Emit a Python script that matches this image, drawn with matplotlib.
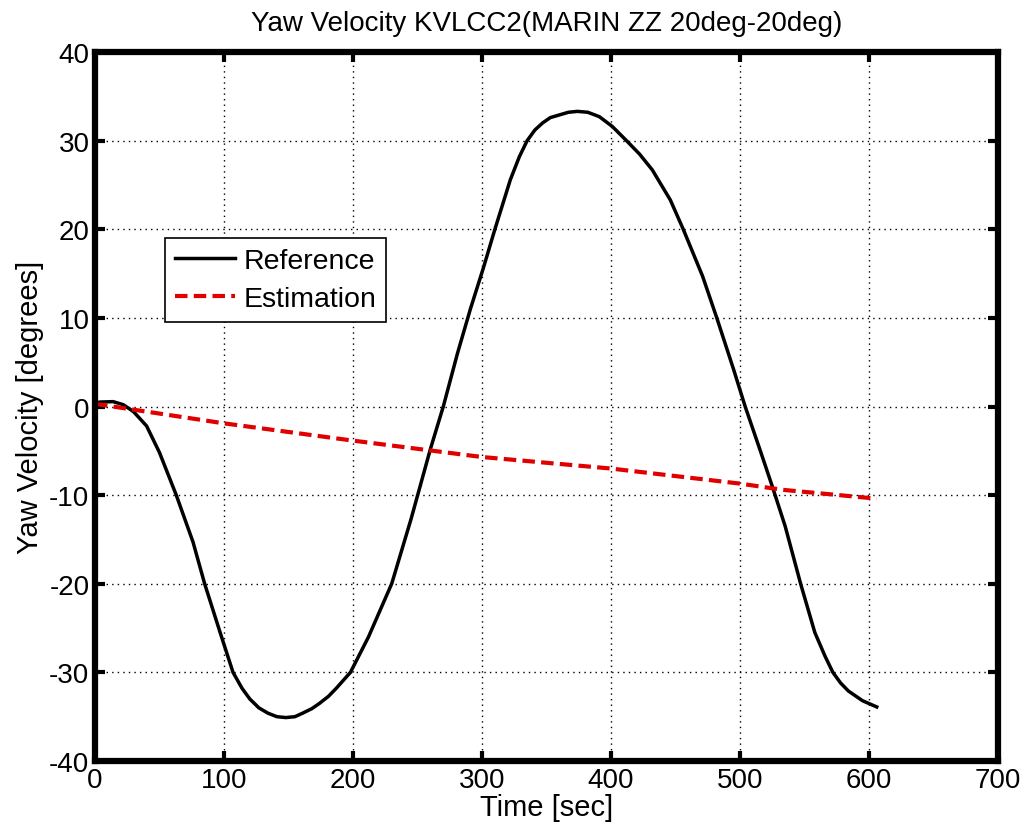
import matplotlib
matplotlib.use("Agg")
import matplotlib.pyplot as plt
import numpy as np

# reference yaw velocity
t_ref = [0, 4, 14, 22, 30, 40, 50, 63, 76, 85, 97, 107, 114, 120, 127, 134, 141, 148, 155,
         161, 168, 174, 181, 187, 198, 212, 230, 245, 260, 270, 281, 291, 301, 310, 322, 329,
         335, 341, 347, 353, 360, 367, 374, 382, 391, 401, 412, 422, 432, 446, 456, 471, 482,
         495, 504, 516, 525, 535, 547, 558, 566, 572, 578, 584, 595, 606]
r_ref = [0.4, 0.5, 0.55, 0.2, -0.6, -2.2, -5.2, -10.0, -15.3, -20.0, -25.5, -30.0, -31.8,
         -33.0, -34.0, -34.6, -35.0, -35.1, -35.0, -34.6, -34.1, -33.5, -32.7, -31.8, -30.0,
         -26.0, -20.0, -12.7, -4.8, 0.0, 6.0, 11.0, 15.6, 20.0, 25.6, 28.2, 30.0, 31.2, 32.0,
         32.6, 32.9, 33.2, 33.3, 33.2, 32.7, 31.6, 30.0, 28.5, 26.7, 23.3, 20.0, 14.7, 10.0,
         4.2, 0.0, -5.1, -9.0, -13.5, -20.0, -25.5, -28.2, -30.0, -31.2, -32.1, -33.2, -33.9]

# estimation
t_est = [0, 100, 200, 300, 400, 500, 533, 606]
r_est = [0.3, -1.9, -3.85, -5.7, -7.0, -8.7, -9.4, -10.4]

plt.rcParams['font.family'] = ['Liberation Sans', 'DejaVu Sans']
plt.rcParams['axes.unicode_minus'] = False

fig = plt.figure(figsize=(10.23, 8.37), dpi=100)
ax = fig.add_axes([95 / 1023, 1 - 762 / 837, 903 / 1023, 709 / 837])

ax.plot(t_ref, r_ref, color='black', lw=2.5, label='Reference', solid_joinstyle='round')
ax.plot(t_est, r_est, color='#e00000', lw=3, ls=(0, (3, 1.5)), label='Estimation')

ax.set_xlim(0, 700)
ax.set_ylim(-40, 40)
ax.set_xticks(np.arange(0, 701, 100))
ax.set_yticks(np.arange(-40, 41, 10))
ax.grid(True, color='black', ls=(0, (1, 3)), lw=1)
ax.tick_params(direction='in', length=7, width=3, labelsize=20, top=True, right=True, pad=4)
for s in ax.spines.values():
    s.set_linewidth(4.5)

ax.set_title('Yaw Velocity KVLCC2(MARIN ZZ 20deg-20deg)', fontsize=20, pad=16)
ax.set_xlabel('Time [sec]', fontsize=21, labelpad=0)
ax.set_ylabel('Yaw Velocity [degrees]', fontsize=21, labelpad=4)

leg = ax.legend(loc='upper left', bbox_to_anchor=(0.0775, 0.737), fontsize=20.5, fancybox=False,
                framealpha=1, edgecolor='black', handlelength=2.1, handletextpad=0.3,
                borderpad=0.35, labelspacing=0.4, borderaxespad=0)
leg.get_frame().set_linewidth(1.2)

fig.savefig('out.png', dpi=100)
